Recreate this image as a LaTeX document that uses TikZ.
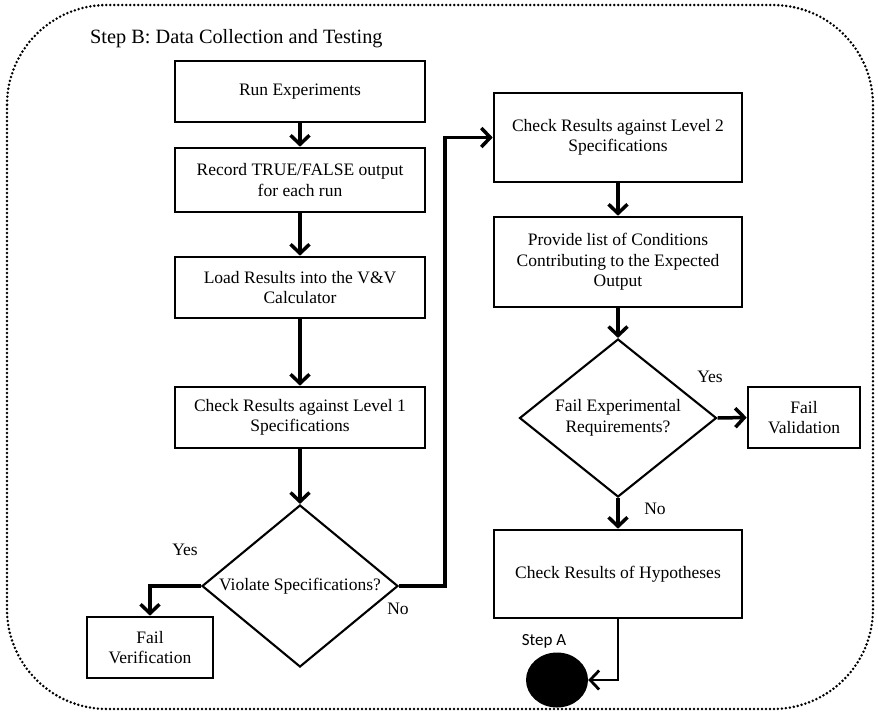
\documentclass[tikz,border=0pt]{standalone}
\usepackage{fontspec}
\setmainfont{Liberation Serif}
\newfontfamily\stepfont{Carlito}
\usetikzlibrary{shapes.geometric,arrows.meta}
\tikzset{
  stepbox/.style={draw, line width=2.6pt, align=center, inner sep=0pt,
    font=\fontsize{17.5}{20.5}\selectfont},
  decision/.style={draw, diamond, line width=2.1pt, inner sep=0pt},
  flowarr/.style={line width=3.5pt, -{Straight Barb[length=9pt,width=19pt]}},
  lbl/.style={font=\fontsize{17.5}{20.5}\selectfont, align=center, inner sep=0pt},
  border/.style={line width=2.8pt, line cap=round, dash pattern=on 0pt off 4pt, rounded corners=100pt}
}
\begin{document}
\begin{tikzpicture}[x=1pt,y=-1pt]
\useasboundingbox (0,0) rectangle (878,713);
\draw[border] (7,5) rectangle (873,709);
\node[anchor=base west, font=\fontsize{20.3}{24}\selectfont, inner sep=0pt] (title) at (90,43) {Step B: Data Collection and Testing};
% left column
\node[stepbox, minimum width=250pt, minimum height=61pt] (run) at (300,91.5) {Run Experiments};
\node[stepbox, minimum width=250pt, minimum height=64pt] (rec) at (300,180) {Record TRUE/FALSE output\\for each run};
\node[stepbox, minimum width=250pt, minimum height=61pt] (load) at (300,287.5) {Load Results into the V\&V\\Calculator};
\node[stepbox, minimum width=250pt, minimum height=61pt] (chk1) at (300,417.5) {Check Results against Level 1\\Specifications};
\node[decision, minimum width=196pt, minimum height=162pt,
  label={[lbl]center:Violate Specifications?}] (dia1) at (300,586) {};
\node[stepbox, minimum width=126pt, minimum height=61pt] (failver) at (150,647.5) {Fail\\Verification};
% right column
\node[stepbox, minimum width=248pt, minimum height=89pt] (chk2) at (618,137.5) {Check Results against Level 2\\Specifications};
\node[stepbox, minimum width=248pt, minimum height=90pt] (prov) at (618,262) {Provide list of Conditions\\Contributing to the Expected\\Output};
\node[decision, minimum width=197pt, minimum height=158pt,
  label={[lbl]center:Fail Experimental\\Requirements?}] (dia2) at (618,418) {};
\node[stepbox, minimum width=112pt, minimum height=61pt] (failval) at (804,417.5) {Fail\\Validation};
\node[stepbox, minimum width=248pt, minimum height=88pt] (hyp) at (618,574) {Check Results of Hypotheses};
\node[ellipse, fill=black, minimum width=62pt, minimum height=55pt, inner sep=0pt] (stepA) at (557,680) {};
% labels
\node[lbl] (yes1) at (185,550) {Yes};
\node[lbl] (no1) at (398,609) {No};
\node[lbl] (yes2) at (710,377) {Yes};
\node[lbl] (no2) at (655,509) {No};
\node[font=\stepfont\fontsize{17}{20}\selectfont, inner sep=0pt] (stepAlbl) at (544,641) {Step A};
% connectors
\draw[flowarr] (run) -- (rec);
\draw[flowarr] (rec) -- (load);
\draw[flowarr] (load) -- (chk1);
\draw[flowarr] (chk1) -- (dia1.north);
\draw[flowarr] (dia1.west) -| (failver.north);
\coordinate (up) at (445,586);
\draw[flowarr] (dia1.east) -- (up) |- (chk2.west);
\draw[flowarr] (chk2) -- (prov);
\draw[flowarr] (prov) -- (dia2.north);
\draw[flowarr] (dia2.east) -- (failval.west);
\draw[flowarr] (dia2.south) -- (hyp.north);
\draw[flowarr, line width=2.8pt] (hyp.south) |- (stepA.east);
\end{tikzpicture}
\end{document}
